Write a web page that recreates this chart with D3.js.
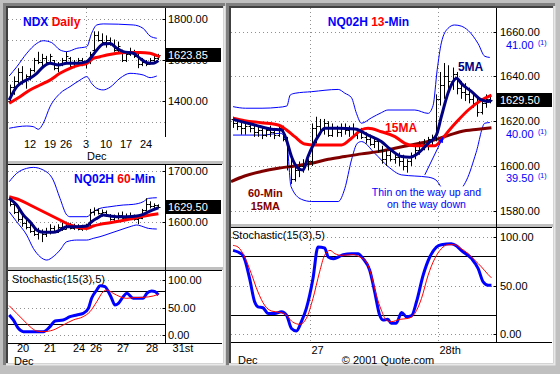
<!DOCTYPE html>
<html>
<head>
<meta charset="utf-8">
<script src="https://d3js.org/d3.v7.min.js"></script>
<style>
  html, body { margin: 0; padding: 0; background: #c0c0c0; }
  svg { display: block; font-family: Arial, "Liberation Sans", sans-serif; }
</style>
</head>
<body>
<svg id="chart" width="560" height="374"></svg>
<script>
// ---------- NDX daily (index = trading day from Nov 5) ----------
const dailyTicks = [[5, '12'], [10, '19'], [14, '26'], [19, '3'], [24, '10'], [29, '17'], [34, '24']];
const dailyPriceLabels = [1800, 1600, 1400];
const dailyLast = 1623.85;
// [open, high, low, close]
const dailyBars = [
  [1400,1480,1390,1470],[1470,1520,1430,1500],[1500,1560,1480,1540],[1540,1570,1480,1500],
  [1500,1530,1460,1520],[1520,1560,1500,1550],[1550,1610,1540,1600],[1600,1640,1580,1590],
  [1590,1630,1570,1610],[1610,1620,1580,1590],[1590,1630,1580,1620],[1600,1600,1550,1560],
  [1560,1590,1540,1580],[1580,1610,1570,1600],[1600,1640,1580,1620],[1610,1615,1560,1570],
  [1570,1600,1560,1590],[1590,1610,1570,1600],[1600,1610,1570,1580],[1580,1600,1560,1590],
  [1590,1640,1580,1630],[1650,1740,1640,1720],[1720,1740,1690,1700],[1700,1730,1670,1690],
  [1690,1720,1660,1700],[1700,1710,1670,1680],[1680,1700,1640,1650],[1650,1690,1630,1670],
  [1640,1650,1590,1600],[1600,1640,1590,1630],[1630,1660,1620,1640],[1640,1650,1610,1620],
  [1620,1630,1560,1580],[1580,1610,1570,1590],[1590,1600,1570,1580],[1580,1610,1580,1600],
  [1600,1620,1580,1610],[1610,1630,1600,1623.85]
];
const dailyUpper = [[-0.2,1522],[1.7,1567],[4.2,1633],[6.7,1681],[8.3,1694],[10.4,1685],[12.5,1649],[14.2,1641],[16.7,1657],[19.2,1665],[20.4,1730],[21.7,1771],[23.3,1776],[30.8,1771],[33.3,1754],[35,1717],[36.7,1706]];
const dailyLower = [[-0.2,1267],[4.2,1278],[5.8,1275],[7.1,1262],[8.3,1291],[10,1372],[12.5,1437],[15,1470],[17.5,1502],[19.2,1519],[20.4,1486],[21.7,1462],[23.3,1454],[25,1467],[27.5,1511],[30,1535],[33.3,1527],[35,1514],[36.7,1522]];
const dailyRedMA = [[-0.2,1389],[2.5,1421],[5,1454],[7.5,1478],[10,1502],[12.5,1535],[15,1559],[17.5,1576],[19.2,1584],[20.8,1608],[22.5,1616],[24.2,1624],[26.7,1633],[29.2,1636],[32.5,1636],[35,1633],[36.7,1621],[37.5,1616]];
const dailyNavyMA = [[-0.2,1405],[1.7,1470],[3.3,1494],[5,1511],[6.7,1535],[8.3,1567],[10,1584],[12.1,1576],[14.2,1584],[16.7,1584],[19.2,1592],[20.4,1616],[21.7,1649],[23.3,1678],[25,1681],[26.7,1657],[28.3,1641],[30.8,1633],[32.5,1608],[34.2,1587],[35.8,1584],[37.1,1597]];

// ---------- NQ02H 60-min ----------
const hourTicks = [[3.25, '20'], [10, '21'], [17.25, '24'], [21.5, '26'], [28.25, '27'], [35.5, '28'], [43.25, '31st']];
const hourPriceLabels = [1700, 1600];
const hourLast = 1629.5;
const hourBars = [
  [1645,1650,1630,1635],[1635,1640,1615,1620],[1620,1628,1600,1605],[1605,1612,1590,1598],
  [1598,1605,1585,1590],[1590,1598,1578,1582],[1582,1592,1572,1576],[1576,1588,1565,1580],
  [1580,1585,1560,1575],[1575,1588,1570,1582],[1582,1595,1575,1588],[1588,1592,1578,1580],
  [1580,1595,1578,1590],[1590,1598,1582,1585],[1585,1600,1585,1595],[1595,1598,1585,1588],
  [1588,1596,1584,1592],[1592,1595,1583,1586],[1586,1594,1582,1590],[1590,1596,1583,1588],
  [1590,1625,1590,1620],[1620,1628,1612,1622],[1622,1626,1614,1618],[1618,1624,1610,1620],
  [1620,1622,1610,1612],[1612,1615,1602,1606],[1606,1614,1600,1610],[1610,1618,1604,1614],
  [1614,1620,1606,1608],[1608,1616,1604,1612],[1612,1618,1606,1610],[1610,1614,1602,1606],
  [1606,1612,1595,1608],[1608,1625,1605,1622],[1622,1646,1620,1635],[1635,1640,1626,1630],
  [1630,1636,1625,1632],[1632,1634,1626,1629.5]
];
const hourUpper = [[-0.2,1678.4],[1.67,1694.8],[4.17,1704.6],[5.83,1706.5],[8.33,1701.3],[10.8,1681.7],[12.5,1645.7],[14.2,1613.1],[15,1609.8],[19.2,1609.8],[20.8,1619.6],[22.5,1626.1],[25,1629.4],[28.3,1632.7],[30.8,1634],[33.3,1639.2],[34.6,1645.7],[36.7,1647]];
const hourLower = [[-0.2,1619.6],[1.67,1600],[4.17,1573.9],[5.83,1547.7],[7.5,1531.4],[9.2,1524.8],[10.8,1531.4],[12.5,1544.4],[14.2,1560.8],[16.7,1564],[19.2,1564],[20.8,1567.3],[22.5,1570.6],[25,1577.1],[27.5,1583.7],[30,1590.2],[31.7,1593.5],[33.3,1590.2],[34.6,1586.9],[36.7,1585.6]];
const hourRedMA = [[-0.2,1649],[2.5,1642.5],[5,1632.7],[7.5,1622.9],[10,1613.1],[12.5,1603.3],[15,1593.5],[17.5,1588.2],[19.2,1586.9],[20.8,1591.5],[22.5,1594.8],[25,1598],[27.5,1601.3],[30,1605.2],[32.5,1609.8],[35,1613.1],[37.1,1615.7]];
const hourNavyMA = [[-0.2,1645.7],[1.67,1632.7],[3.33,1613.1],[5,1600],[6.67,1583.7],[8.33,1579.1],[10.8,1579.1],[12.5,1583.7],[14.2,1590.2],[16.7,1590.2],[19.2,1591.5],[20.4,1600],[21.7,1606.5],[23.3,1613.1],[25,1611.1],[26.7,1609.8],[29.2,1609.8],[31.7,1611.1],[33.3,1614.4],[35,1620.9],[37.1,1627.4]];
const hourStochK = [[-0.2,36.4],[0.83,27.3],[2.08,12.1],[3.33,6.1],[5.83,6.1],[8.33,6.1],[10,15.2],[11.25,25.5],[13.3,27.3],[15,33.3],[16.7,36.4],[18.3,39.4],[19.6,48.5],[20.4,66.7],[21.7,81.8],[22.5,89.7],[23.75,87.9],[24.6,78.8],[25.4,66.7],[26.25,54.5],[27.1,57.6],[28.3,69.7],[29.2,75.8],[30.8,66.7],[33.3,66.7],[34.2,75.8],[35.4,80],[36.25,78.8],[37.1,72.7]];
const hourStochD = [[-0.2,53.3],[1.67,39.4],[3.33,27.3],[5,15.2],[6.67,7.3],[8.33,6.1],[10.8,9.1],[13.3,18.2],[15.8,27.3],[18.3,33.3],[20,42.4],[21.7,60.6],[23.3,78.8],[24.2,81.8],[25.8,75.8],[27.5,69.7],[29.2,66.7],[30.8,67.9],[33.3,68.5],[35.8,70.9],[37.1,73.9]];

// ---------- NQ02H 13-min ----------
const minTicks = [[18.5, '27'], [49.6, '28th']];
const minPriceLabels = [1660, 1640, 1620, 1600, 1580];
const minSideLabels = [[41, '41.00'], [40, '40.00'], [39.5, '39.50']];
const minLast = 1629.5;
const stochLabels = [100, 50, 0];
const stochBands = [80, 20];
const minBars = [
  [1621,1622,1617,1619],[1619,1621,1616,1618],[1618,1620,1614,1617],[1617,1619,1614,1618],
  [1618,1620,1615,1617],[1617,1618,1613,1615],[1615,1618,1613,1616],[1616,1617,1612,1614],
  [1614,1617,1613,1616],[1616,1618,1613,1615],[1615,1617,1612,1614],[1614,1618,1613,1617],
  [1617,1618,1611,1612],[1612,1613,1598,1600],[1600,1604,1592,1594],[1594,1600,1593,1598],
  [1598,1602,1595,1600],[1600,1603,1597,1601],[1601,1603,1598,1602],[1602,1619,1600,1617],
  [1617,1622,1610,1618],[1618,1621,1614,1616],[1616,1621,1614,1619],[1619,1620,1613,1614],
  [1614,1619,1613,1617],[1617,1618,1613,1615],[1615,1619,1613,1617],[1617,1619,1614,1616],
  [1616,1618,1613,1617],[1617,1619,1613,1614],[1614,1617,1612,1615],[1615,1617,1612,1613],
  [1613,1615,1610,1612],[1612,1614,1609,1610],[1610,1613,1608,1611],[1611,1612,1606,1607],
  [1607,1609,1601,1603],[1603,1607,1600,1605],[1605,1607,1602,1603],[1603,1606,1601,1604],
  [1604,1606,1600,1602],[1602,1605,1598,1600],[1600,1603,1597,1602],[1602,1606,1600,1605],
  [1605,1609,1603,1607],[1607,1611,1605,1610],[1610,1612,1607,1609],[1609,1613,1607,1612],
  [1612,1614,1609,1613],[1613,1632,1611,1630],[1630,1642,1627,1636],[1636,1646,1630,1640],
  [1640,1645,1633,1638],[1638,1644,1634,1641],[1641,1642,1632,1635],[1635,1638,1630,1633],
  [1633,1637,1629,1632],[1632,1635,1628,1630],[1630,1633,1626,1628],[1628,1631,1622,1624],
  [1624,1630,1623,1628],[1628,1632,1626,1630],[1630,1631,1628,1629.5]
];
const minUpper = [[0,1626.5],[3,1625.8],[7,1625.8],[11,1626.2],[13,1626.8],[13.8,1631.7],[15,1632.5],[19,1633.2],[25.4,1634.2],[27,1632.5],[28.6,1630.5],[29.8,1623.5],[31,1619.1],[33.4,1621.5],[35.8,1623.8],[37.4,1625],[43.9,1625],[47.1,1623.5],[48.3,1627],[49.3,1643],[50.3,1655],[51.9,1661.5],[53.5,1663],[55.1,1662.5],[56.8,1660.5],[59.2,1654.6],[60.8,1649],[62,1648.5]];
const minLower = [[0,1613.8],[7,1613.8],[11.5,1614.6],[13,1610.1],[14,1590.8],[16.5,1585.1],[19,1584.1],[25.4,1584.1],[27,1590],[28.6,1602.7],[30,1610.1],[31,1610.9],[34.2,1605.7],[37.4,1599.8],[40.7,1596],[43.9,1595.5],[47.1,1595],[49,1593.7],[51,1589.2],[54,1588.5],[56.4,1593.7],[58.7,1606],[60.8,1619.1],[62,1619.4]];
const minRedMA = [[0,1621.3],[2.8,1620.2],[6.8,1619.3],[10.9,1618.3],[12.9,1616.1],[14.9,1613.1],[17.3,1609.8],[19.7,1609.4],[26.2,1609.4],[28.6,1612.4],[31,1616.1],[32.6,1616.8],[35.8,1615.3],[39.1,1613.1],[41.5,1610.1],[43.9,1609],[48.7,1609],[50.3,1611.6],[51.9,1615.3],[54.4,1620.5],[56.8,1625],[60,1629.5],[62.4,1631.7]];
const minMaroonMA = [[-0.5,1593],[2.8,1595.5],[6.8,1597.5],[10.9,1599],[14.9,1600],[19,1601.2],[23,1603],[27,1604.2],[31,1605.4],[35,1606.4],[39.1,1607.9],[43,1609.4],[47.1,1610.9],[51.1,1613.1],[55.1,1615.4],[59.2,1616.4],[62.4,1617.1]];
const minNavyMA = [[0,1620.8],[2,1619.8],[5.2,1618.3],[9.3,1616.4],[11.7,1616.1],[12.9,1611.6],[14.1,1604.2],[15.7,1599],[16.9,1598.2],[18.1,1604.2],[20.5,1613.1],[22.1,1616.8],[25.4,1616.8],[29.4,1616.5],[32.6,1613.8],[35.8,1610.9],[38.2,1607.1],[40.7,1604.2],[42.7,1603.9],[44.7,1605.7],[47.1,1610.1],[49.1,1613.8],[50.3,1622],[51.9,1632.5],[54,1639.2],[55.1,1636.9],[57.6,1633.2],[60,1629.5],[61.6,1628.8],[62.4,1629.5]];
const minStochK = [[0,86],[1.2,84.3],[2.4,80.9],[4,57],[5.2,33.3],[6,28.2],[7.2,27.2],[8.5,21.4],[10.1,21.4],[11.7,23.1],[12.9,19.7],[14.1,6],[15.3,3.4],[16.5,12.9],[17.7,26.5],[19.3,57.1],[20.5,89.4],[22.1,88.4],[23,79.2],[24.2,77.5],[25.4,79.2],[26.6,81.6],[28.6,82.6],[30.2,82.6],[31.4,77.5],[33,65.6],[34.2,43.5],[35.4,19.7],[36.2,14.6],[37.4,15.3],[38.2,11.2],[39.4,11.2],[40.7,22.4],[41.9,18],[43.1,19],[44.3,33.3],[45.9,60.5],[47.5,79.2],[49.1,89.4],[50.3,91.8],[52.7,92.8],[54,90.4],[55.1,86],[57.6,77.5],[59.2,67.3],[60.4,53.7],[61.6,50.3],[62.4,50.3]];
const minStochD = [[0,91.1],[1.2,89.4],[2.8,79.2],[4.4,62.2],[6,43.5],[7.6,29.9],[9.3,23.8],[11.3,22.4],[12.9,19.7],[14.1,13.6],[15.3,10.8],[16.1,10.2],[17.7,16.3],[19.3,36.7],[20.9,63.9],[22.1,80.9],[23.4,86],[24.6,82.6],[26.2,80.9],[29,81.6],[30.6,79.2],[32.2,74.1],[33.4,60.5],[34.6,40.1],[35.8,24.8],[37,14.6],[38.2,12.9],[40.2,15.3],[42.3,16.3],[43.9,21.4],[45.5,36.7],[47.1,60.5],[48.7,77.5],[50.3,87.7],[51.9,91.8],[53.5,91.8],[55.1,87.7],[56.8,82.6],[58.4,75.8],[60,69],[61.6,61.2],[62.4,57.8]];

// annotations in data units of the 13-min chart
const arrowFrom = [46.3, 1596], arrowTo = [50.7, 1612.8];

// ---------- drawing ----------
const BLUE = '#0000ff', NAVY = '#000080', RED = '#ff0000', MAROON = '#800000';
const svg = d3.select('#chart');

const defs = svg.append('defs');
defs.append('marker').attr('id', 'arrow').attr('viewBox', '0 0 10 10')
  .attr('refX', 9).attr('refY', 5).attr('markerWidth', 6).attr('markerHeight', 6)
  .attr('orient', 'auto')
  .append('path').attr('d', 'M0,1L10,5L0,9z').attr('fill', BLUE);

function clip(id, x0, y0, x1, y1) {
  defs.append('clipPath').attr('id', id).append('rect')
    .attr('x', x0).attr('y', y0).attr('width', x1 - x0).attr('height', y1 - y0);
  return svg.append('g').attr('clip-path', `url(#${id})`);
}

function column(x0, y0, x1, y1) {
  svg.append('rect').attr('x', x0).attr('y', y0).attr('width', x1 - x0).attr('height', y1 - y0).attr('fill', '#fff');
  svg.append('path').attr('d', `M${x0 - 3.5},${y1 + 2}V${y0 - 3.5}H${x1 + 2}`).attr('fill', 'none').attr('stroke', '#808080').attr('stroke-width', 3);
  svg.append('path').attr('d', `M${x0 - 1},${y1}V${y0 - 1}H${x1}`).attr('fill', 'none').attr('stroke', '#404040').attr('stroke-width', 2);
  svg.append('path').attr('d', `M${x0 - 2},${y1 + 1.5}H${x1 + 1.5}V${y0 - 2}`).attr('fill', 'none').attr('stroke', '#e8e8e8').attr('stroke-width', 2);
}

function hline(x0, x1, y, color, dash, w) {
  svg.append('line').attr('x1', x0).attr('x2', x1).attr('y1', y).attr('y2', y)
    .attr('stroke', color).attr('stroke-width', w || 1).attr('stroke-dasharray', dash || null);
}
function vline(x, y0, y1, color, dash, w) {
  svg.append('line').attr('x1', x).attr('x2', x).attr('y1', y0).attr('y2', y1)
    .attr('stroke', color).attr('stroke-width', w || 1).attr('stroke-dasharray', dash || null);
}
function text(x, y, s, opt) {
  opt = opt || {};
  return svg.append('text').attr('x', x).attr('y', y).text(s)
    .attr('font-size', opt.size || 11).attr('fill', opt.fill || '#000')
    .attr('font-weight', opt.bold ? 'bold' : null)
    .attr('text-anchor', opt.anchor || 'start');
}
const crisp = v => Math.round(v) + 0.5;

function bars(g, data, x, y) {
  const s = g.selectAll(null).data(data).enter().append('g').attr('stroke', '#000').attr('stroke-width', 1);
  s.append('line').attr('x1', (d, i) => crisp(x(i))).attr('x2', (d, i) => crisp(x(i)))
    .attr('y1', d => y(d[1])).attr('y2', d => y(d[2]));
  s.append('line').attr('x1', (d, i) => crisp(x(i)) - 2).attr('x2', (d, i) => crisp(x(i)))
    .attr('y1', d => crisp(y(d[0]))).attr('y2', d => crisp(y(d[0])));
  s.append('line').attr('x1', (d, i) => crisp(x(i))).attr('x2', (d, i) => crisp(x(i)) + 2)
    .attr('y1', d => crisp(y(d[3]))).attr('y2', d => crisp(y(d[3])));
}
function series(g, data, x, y, color, w) {
  const line = d3.line().x(d => x(d[0])).y(d => y(d[1])).curve(d3.curveMonotoneX);
  g.append('path').datum(data).attr('d', line).attr('fill', 'none')
    .attr('stroke', color).attr('stroke-width', w).attr('stroke-linejoin', 'round');
}
function priceLabel(axisX, y, s, tx) {
  text(tx, y + 4, s);
  hline(axisX - 3, axisX, crisp(y), '#000');
}
function lastBox(axisX, rightX, y, s, tx) {
  svg.append('rect').attr('x', axisX + 0.5).attr('y', Math.round(y) - 7).attr('width', rightX - axisX - 0.5).attr('height', 14).attr('fill', '#000');
  text(tx, y + 4, s, { fill: '#fff' });
}

// columns
column(8, 8, 223, 363);
column(231, 8, 553, 363);

// ================= LEFT: daily =================
const dX = d3.scaleLinear().domain([-0.5, 38.5]).range([8, 164]);
const dY = d3.scaleLinear().domain([1400, 1800]).range([101, 19]);
[1300, 1400, 1500, 1600, 1700, 1800].forEach(v => hline(8, 165, crisp(dY(v)), '#909090', '1,3'));
vline(crisp(dX(19)), 8, 137, '#909090', '1,3');
const gD = clip('clipD', 8, 8, 165, 137);
series(gD, dailyUpper, dX, dY, BLUE, 1);
series(gD, dailyLower, dX, dY, BLUE, 1);
bars(gD, dailyBars, dX, dY);
series(gD, dailyRedMA, dX, dY, RED, 3);
series(gD, dailyNavyMA, dX, dY, NAVY, 3);
vline(165.5, 8, 137, '#000');
dailyPriceLabels.forEach(v => priceLabel(165.5, dY(v), v.toFixed(2), 168));
lastBox(165.5, 221, dY(dailyLast), dailyLast.toFixed(2), 168);
dailyTicks.forEach(t => text(dX(t[0]), 148, t[1], { anchor: 'middle' }));
text(dX(19) + 1, 160, 'Dec');
const tD = text(23, 26, '', { size: 12, bold: true });
tD.append('tspan').attr('fill', BLUE).text('NDX ');
tD.append('tspan').attr('fill', RED).text('Daily');

// separators left
svg.append('rect').attr('x', 8).attr('y', 161).attr('width', 215).attr('height', 3).attr('fill', '#c0c0c0');
hline(8, 222, 164.5, '#000');
svg.append('rect').attr('x', 8).attr('y', 267).attr('width', 215).attr('height', 3).attr('fill', '#c0c0c0');
hline(8, 222, 270.5, '#000');

// ================= LEFT: 60-min =================
const hX = d3.scaleLinear().domain([-0.5, 38.5]).range([8, 164]);
const hY = d3.scaleLinear().domain([1600, 1700]).range([221.7, 170.7]);
[1700, 1600].forEach(v => hline(8, 165, crisp(hY(v)), '#909090', '1,3'));
const gH = clip('clipH', 8, 165, 165, 267);
series(gH, hourUpper, hX, hY, BLUE, 1);
series(gH, hourLower, hX, hY, BLUE, 1);
bars(gH, hourBars, hX, hY);
series(gH, hourRedMA, hX, hY, RED, 3);
series(gH, hourNavyMA, hX, hY, NAVY, 3);
hourPriceLabels.forEach(v => priceLabel(165.5, hY(v), v.toFixed(2), 168));
lastBox(165.5, 221, hY(hourLast), hourLast.toFixed(2), 168);
const tH = text(74, 183, '', { size: 12, bold: true });
tH.append('tspan').attr('fill', BLUE).text('NQ02H ');
tH.append('tspan').attr('fill', RED).text('60');
tH.append('tspan').attr('fill', BLUE).text('-Min');

// ================= LEFT: stochastic =================
const hsY = d3.scaleLinear().domain([0, 100]).range([335, 280]);
stochLabels.forEach(v => hline(8, 165, crisp(hsY(v)), '#909090', '1,3'));
stochBands.forEach(v => hline(8, 165, crisp(hsY(v)), '#000'));
const gHS = clip('clipHS', 8, 271, 165, 343);
series(gHS, hourStochK, hX, hsY, BLUE, 3);
series(gHS, hourStochD, hX, hsY, RED, 1);
text(12, 283, 'Stochastic(15(3),5)');
stochLabels.forEach(v => priceLabel(165.5, hsY(v), v.toFixed(2), 168));
hline(8, 222, 343.5, '#000');
vline(165.5, 164.5, 343.5, '#000');
hourTicks.forEach(t => text(hX(t[0]), 352, t[1], { anchor: 'middle' }));
text(14, 364.5, 'Dec');

// ================= RIGHT: 13-min =================
const mX = d3.scaleLinear().domain([-0.5, 63.5]).range([231, 496]);
const mY = d3.scaleLinear().domain([1580, 1660]).range([210.7, 31.7]);
const sideY = d3.scaleLinear().domain([39.5, 41]).range([178.3, 45]);
minPriceLabels.forEach(v => hline(231, 496, crisp(mY(v)), '#909090', '1,3'));
minTicks.forEach(t => vline(crisp(mX(t[0])), 8, 342, '#909090', '1,3'));
const gM = clip('clipM', 231, 8, 496, 224);
series(gM, minUpper, mX, mY, BLUE, 1);
series(gM, minLower, mX, mY, BLUE, 1);
series(gM, minMaroonMA, mX, mY, MAROON, 3);
bars(gM, minBars, mX, mY);
series(gM, minRedMA, mX, mY, RED, 3);
series(gM, minNavyMA, mX, mY, NAVY, 3);

// annotations
const note = svg.append('g');
note.append('text').attr('x', mX(46.7)).attr('y', mY(1586.4)).attr('text-anchor', 'middle')
  .attr('font-size', 10.5).attr('fill', BLUE).text('Thin on the way up and');
note.append('text').attr('x', mX(46.7)).attr('y', mY(1581.1)).attr('text-anchor', 'middle')
  .attr('font-size', 10.5).attr('fill', BLUE).text('on the way down');
const bb = note.node().getBBox();
note.insert('rect', ':first-child').attr('x', bb.x - 2).attr('y', bb.y).attr('width', bb.width + 4).attr('height', bb.height).attr('fill', '#fff');
svg.append('line').attr('x1', mX(arrowFrom[0])).attr('y1', mY(arrowFrom[1]))
  .attr('x2', mX(arrowTo[0])).attr('y2', mY(arrowTo[1]))
  .attr('stroke', BLUE).attr('stroke-width', 1).attr('marker-end', 'url(#arrow)');
text(mX(54.3), mY(1642.4), '5MA', { bold: true, fill: NAVY, size: 12 });
text(mX(36.7), mY(1615.2), '15MA', { bold: true, fill: RED, size: 12 });
text(mX(7.8), mY(1586), '60-Min', { bold: true, fill: MAROON, anchor: 'middle' });
text(mX(7.8), mY(1580.2), '15MA', { bold: true, fill: MAROON, anchor: 'middle' });
const tM = text((mX(-0.5) + mX(63.5)) / 2 + 5, 26, '', { size: 12, bold: true, anchor: 'middle' });
tM.append('tspan').attr('fill', BLUE).text('NQ02H ');
tM.append('tspan').attr('fill', RED).text('13');
tM.append('tspan').attr('fill', BLUE).text('-Min');

minPriceLabels.forEach(v => priceLabel(496.5, mY(v), v.toFixed(2), 500));
minSideLabels.forEach(s => {
  text(506, sideY(s[0]) + 4, s[1], { fill: BLUE });
  text(538, sideY(s[0]), '(1)', { fill: BLUE, size: 7 });
});
lastBox(496.5, 552, mY(minLast), minLast.toFixed(2), 500);

// separator right
svg.append('rect').attr('x', 231).attr('y', 224).attr('width', 322).attr('height', 3).attr('fill', '#c0c0c0');
hline(231, 552, 227.5, '#000');

// ================= RIGHT: stochastic =================
const msY = d3.scaleLinear().domain([0, 100]).range([334.3, 236.7]);
stochLabels.forEach(v => hline(231, 496, crisp(msY(v)), '#909090', '1,3'));
stochBands.forEach(v => hline(231, 496, crisp(msY(v)), '#000'));
const gMS = clip('clipMS', 231, 228, 496, 342);
series(gMS, minStochK, mX, msY, BLUE, 3);
series(gMS, minStochD, mX, msY, RED, 1);
text(232, 239, 'Stochastic(15(3),5)');
stochLabels.forEach(v => priceLabel(496.5, msY(v), v.toFixed(2), 500));
hline(231, 552, 342.5, '#000');
vline(496.5, 8, 342.5, '#000');
minTicks.forEach(t => text(crisp(mX(t[0])) + 1, 353.5, t[1]));
text(238, 364, 'Dec');
text(388, 364, '\u00a9 2001 Quote.com', { anchor: 'middle' });
</script>
</body>
</html>
